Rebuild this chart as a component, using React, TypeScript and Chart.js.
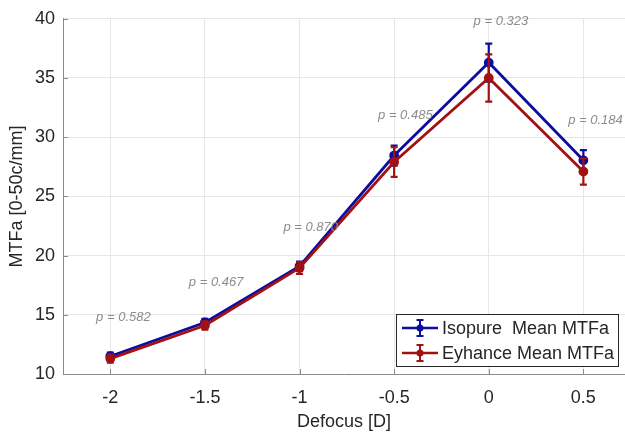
import React, { useEffect, useRef } from 'react';
import { Chart, registerables } from 'chart.js';

Chart.register(...registerables);

const defocus = [-2, -1.5, -1, -0.5, 0, 0.5];
const isopureMean = [11.5, 14.35, 19.1, 28.45, 36.3, 28.05];
const isopureErr = [0.3, 0.3, 0.4, 0.85, 1.6, 0.85];
const eyhanceMean = [11.3, 14.1, 18.95, 27.9, 35.0, 27.1];
const eyhanceErr = [0.35, 0.35, 0.5, 1.25, 2.0, 1.1];
const pValues = ['0.582', '0.467', '0.870', '0.485', '0.323', '0.184'];
const pLabelX = [-2.075, -1.585, -1.085, -0.585, -0.08, 0.42];
const pLabelY = [14.8, 17.7, 22.35, 31.85, 39.75, 31.4];
const xTicks = [-2, -1.5, -1, -0.5, 0, 0.5];
const yTicks = [10, 15, 20, 25, 30, 35, 40];
const seriesNames = ['Isopure  Mean MTFa', 'Eyhance Mean MTFa'];

const BLUE = '#0c0ca0';
const RED = '#a31212';
const FONT = "'Liberation Sans', Arial, sans-serif";
const TEXT = '#262626';
const AXIS = '#8a8a8a';

const errorBarPlugin = {
  id: 'errorBars',
  afterDatasetDraw(chart: any, args: any) {
    const ds = chart.data.datasets[args.index];
    const errs: number[] = ds.errors;
    if (!errs) return;
    const ctx = chart.ctx;
    const ys = chart.scales.y;
    ctx.save();
    ctx.strokeStyle = ds.borderColor;
    ctx.lineWidth = 2.2;
    args.meta.data.forEach((pt: any, i: number) => {
      const v = ds.data[i].y;
      const yt = ys.getPixelForValue(v + errs[i]);
      const yb = ys.getPixelForValue(v - errs[i]);
      const x = pt.x;
      ctx.beginPath();
      ctx.moveTo(x, yt);
      ctx.lineTo(x, yb);
      ctx.moveTo(x - 3.5, yt);
      ctx.lineTo(x + 3.5, yt);
      ctx.moveTo(x - 3.5, yb);
      ctx.lineTo(x + 3.5, yb);
      ctx.stroke();
    });
    ctx.restore();
  },
};

const innerTicksPlugin = {
  id: 'innerTicks',
  beforeDatasetsDraw(chart: any) {
    const ctx = chart.ctx;
    const { left, bottom } = chart.chartArea;
    const xs = chart.scales.x;
    const ys = chart.scales.y;
    ctx.save();
    ctx.strokeStyle = AXIS;
    ctx.lineWidth = 1;
    ctx.beginPath();
    xTicks.forEach((v) => {
      const px = Math.round(xs.getPixelForValue(v)) + 0.5;
      ctx.moveTo(px, bottom);
      ctx.lineTo(px, bottom - 5);
    });
    yTicks.forEach((v) => {
      const py = Math.round(ys.getPixelForValue(v)) + 0.5;
      ctx.moveTo(left, py);
      ctx.lineTo(left + 5, py);
    });
    ctx.stroke();
    ctx.restore();
  },
};

const annotationPlugin = {
  id: 'pLabels',
  afterDatasetsDraw(chart: any) {
    const ctx = chart.ctx;
    const xs = chart.scales.x;
    const ys = chart.scales.y;
    ctx.save();
    ctx.font = `italic 13px ${FONT}`;
    ctx.fillStyle = '#8c8c8c';
    ctx.textAlign = 'left';
    ctx.textBaseline = 'middle';
    pValues.forEach((p, i) => {
      ctx.fillText(`p = ${p}`, xs.getPixelForValue(pLabelX[i]), ys.getPixelForValue(pLabelY[i]));
    });
    ctx.restore();
  },
};

const legendPlugin = {
  id: 'customLegend',
  afterDraw(chart: any) {
    const ctx = chart.ctx;
    const { bottom } = chart.chartArea;
    const w = 222;
    const h = 52;
    const x0 = chart.width - 7 - w;
    const y0 = bottom - 8 - h;
    ctx.save();
    ctx.fillStyle = '#ffffff';
    ctx.fillRect(x0, y0, w, h);
    ctx.strokeStyle = TEXT;
    ctx.lineWidth = 1;
    ctx.strokeRect(Math.round(x0) + 0.5, Math.round(y0) + 0.5, w, h);
    const colors = [BLUE, RED];
    colors.forEach((c, i) => {
      const cy = y0 + 14 + i * 25;
      ctx.strokeStyle = c;
      ctx.fillStyle = c;
      ctx.lineWidth = 2.5;
      ctx.beginPath();
      ctx.moveTo(x0 + 6, cy);
      ctx.lineTo(x0 + 42, cy);
      ctx.stroke();
      ctx.lineWidth = 2;
      const mx = x0 + 24;
      ctx.beginPath();
      ctx.moveTo(mx, cy - 8);
      ctx.lineTo(mx, cy + 8);
      ctx.moveTo(mx - 3.5, cy - 8);
      ctx.lineTo(mx + 3.5, cy - 8);
      ctx.moveTo(mx - 3.5, cy + 8);
      ctx.lineTo(mx + 3.5, cy + 8);
      ctx.stroke();
      ctx.beginPath();
      ctx.arc(mx, cy, 3.5, 0, Math.PI * 2);
      ctx.fill();
      ctx.fillStyle = TEXT;
      ctx.font = `18px ${FONT}`;
      ctx.textAlign = 'left';
      ctx.textBaseline = 'middle';
      ctx.fillText(seriesNames[i], x0 + 46, cy + 1);
    });
    ctx.restore();
  },
};

export default function App() {
  const canvasRef = useRef<HTMLCanvasElement | null>(null);

  useEffect(() => {
    document.body.style.margin = '0';
    const canvas = canvasRef.current;
    if (!canvas) return;
    const chart = new Chart(canvas, {
      type: 'line',
      data: {
        datasets: [
          {
            label: seriesNames[0],
            data: defocus.map((x, i) => ({ x, y: isopureMean[i] })),
            errors: isopureErr,
            borderColor: BLUE,
            backgroundColor: BLUE,
            borderWidth: 2.8,
            pointRadius: 3.5,
            pointBackgroundColor: BLUE,
            pointBorderColor: BLUE,
            order: 2,
          } as any,
          {
            label: seriesNames[1],
            data: defocus.map((x, i) => ({ x, y: eyhanceMean[i] })),
            errors: eyhanceErr,
            borderColor: RED,
            backgroundColor: RED,
            borderWidth: 2.8,
            pointRadius: 3.5,
            pointBackgroundColor: RED,
            pointBorderColor: RED,
            order: 1,
          } as any,
        ],
      },
      options: {
        animation: false,
        responsive: true,
        maintainAspectRatio: false,
        layout: { autoPadding: false, padding: { top: 17, right: 0, left: 0, bottom: 0 } },
        plugins: {
          legend: { display: false },
          tooltip: { enabled: false },
        },
        scales: {
          x: {
            type: 'linear',
            min: -2.25,
            max: 0.72,
            afterBuildTicks: (s: any) => {
              s.ticks = xTicks.map((v) => ({ value: v }));
            },
            afterFit: (s: any) => {
              s.height = 62;
              s.paddingLeft = 0;
              s.paddingRight = 0;
            },
            ticks: {
              font: { family: FONT, size: 18 },
              color: TEXT,
              padding: 13,
              callback: (v: any) => String(v),
            },
            grid: { color: '#e6e6e6', drawTicks: false },
            border: { color: AXIS, width: 1 },
            title: {
              display: true,
              text: 'Defocus [D]',
              font: { family: FONT, size: 18 },
              color: TEXT,
              padding: { top: 0, bottom: 3 },
            },
          },
          y: {
            type: 'linear',
            min: 10,
            max: 40,
            afterBuildTicks: (s: any) => {
              s.ticks = yTicks.map((v) => ({ value: v }));
            },
            afterFit: (s: any) => {
              s.width = 63;
            },
            ticks: {
              font: { family: FONT, size: 18 },
              color: TEXT,
              padding: 8,
            },
            grid: { color: '#e6e6e6', drawTicks: false },
            border: { color: AXIS, width: 1 },
            title: {
              display: true,
              text: 'MTFa [0-50c/mm]',
              font: { family: FONT, size: 18 },
              color: TEXT,
              padding: { top: 6, bottom: 0 },
            },
          },
        },
      } as any,
      plugins: [innerTicksPlugin, errorBarPlugin, annotationPlugin, legendPlugin],
    });
    return () => chart.destroy();
  }, []);

  return (
    <div style={{ width: 625, height: 436, position: 'relative' }}>
      <canvas ref={canvasRef} />
    </div>
  );
}
